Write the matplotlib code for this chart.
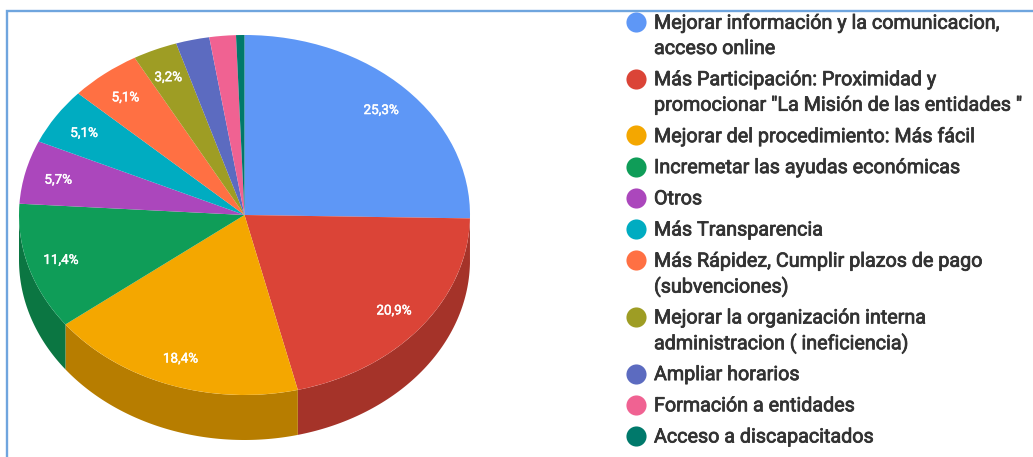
import matplotlib
matplotlib.use("Agg")
import matplotlib.patheffects as pe
import matplotlib.pyplot as plt
import numpy as np

labels = [
    "Mejorar información y la comunicacion,\nacceso online",
    "Más Participación: Proximidad y\npromocionar \"La Misión de las entidades \"",
    "Mejorar del procedimiento: Más fácil",
    "Incremetar las ayudas económicas",
    "Otros",
    "Más Transparencia",
    "Más Rápidez, Cumplir plazos de pago\n(subvenciones)",
    "Mejorar la organización interna\nadministracion ( ineficiencia)",
    "Ampliar horarios",
    "Formación a entidades",
    "Acceso a discapacitados",
]
values = [25.3, 20.9, 18.4, 11.4, 5.7, 5.1, 5.1, 3.2, 2.4, 1.9, 0.6]
value_labels = ["25,3%", "20,9%", "18,4%", "11,4%", "5,7%", "5,1%", "5,1%", "3,2%", "", "", ""]
colors = [
    "#5E97F6", "#DB4437", "#F4A700", "#0F9D58", "#AB47BC", "#00ACC1",
    "#FF7043", "#9E9D24", "#5C6BC0", "#F06292", "#00796B",
]
side_colors = [
    "#4671B8", "#A53329", "#B77D00", "#0B7642", "#80358D", "#008191",
    "#BF5432", "#76761B", "#454F90", "#B44A6E", "#005B50",
]

W, H = 1033, 457
DEPTH = 0.25  # wall height, in units of the pie's vertical radius

plt.rcParams["font.family"] = ["Roboto", "DejaVu Sans"]

fig = plt.figure(figsize=(W / 100, H / 100), dpi=100, facecolor="white")

# page coordinates in pixels, used for the frame and the legend
page = fig.add_axes([0, 0, 1, 1])
page.set_xlim(0, W)
page.set_ylim(H, 0)
page.axis("off")

page.plot([7, 7, W], [H, 11, 11], color="#6FA5DE", lw=1.7, solid_joinstyle="miter")

# pie axes: unit circle stretched to the ellipse, 19..470 x 35..395 px
left, right, top, bottom = 19, 470, 35, 395
rect = [left / W, 1 - (bottom + DEPTH * 180) / H, (right - left) / W, (bottom - top + DEPTH * 180) / H]
ax = fig.add_axes(rect)
ax.patch.set_alpha(0)

edges = np.cumsum([0] + values) / sum(values) * 2 * np.pi  # clockwise from top
for i, color in enumerate(side_colors):
    a0 = max(edges[i], np.pi / 2)
    a1 = min(edges[i + 1], 3 * np.pi / 2)
    if a1 <= a0:
        continue
    t = np.linspace(a0, a1, 80)
    xs = np.concatenate([np.sin(t), np.sin(t[::-1])])
    ys = np.concatenate([np.cos(t), np.cos(t[::-1]) - DEPTH])
    ax.fill(xs, ys, color=color, lw=0)

ax.pie(values, colors=colors, startangle=90, counterclock=False, radius=1,
       wedgeprops={"linewidth": 0})

for i, txt in enumerate(value_labels):
    if not txt:
        continue
    mid = (edges[i] + edges[i + 1]) / 2
    ax.text(0.85 * np.sin(mid), 0.84 * np.cos(mid) - 0.008, txt, color="white", fontsize=9.7,
            ha="center", va="center",
            path_effects=[pe.withStroke(linewidth=0.3, foreground="white")])

ax.set_xlim(-1, 1)
ax.set_ylim(-1 - DEPTH, 1)
ax.set_aspect("auto")
ax.axis("off")

# legend, stroke stands in for the medium weight
heavy = [pe.withStroke(linewidth=0.55, foreground="#333333")]
y = 22.0
for label, color in zip(labels, colors):
    page.scatter([636], [y], s=210, color=color, linewidths=0, zorder=3)
    lines = label.split("\n")
    for j, line in enumerate(lines):
        page.text(654, y + 1 + j * 25.5, line, color="#333333", fontsize=14.2,
                  ha="left", va="center", path_effects=heavy)
    y += 31.2 + (len(lines) - 1) * 25.5

fig.savefig("out.png", dpi=100, facecolor="white")
